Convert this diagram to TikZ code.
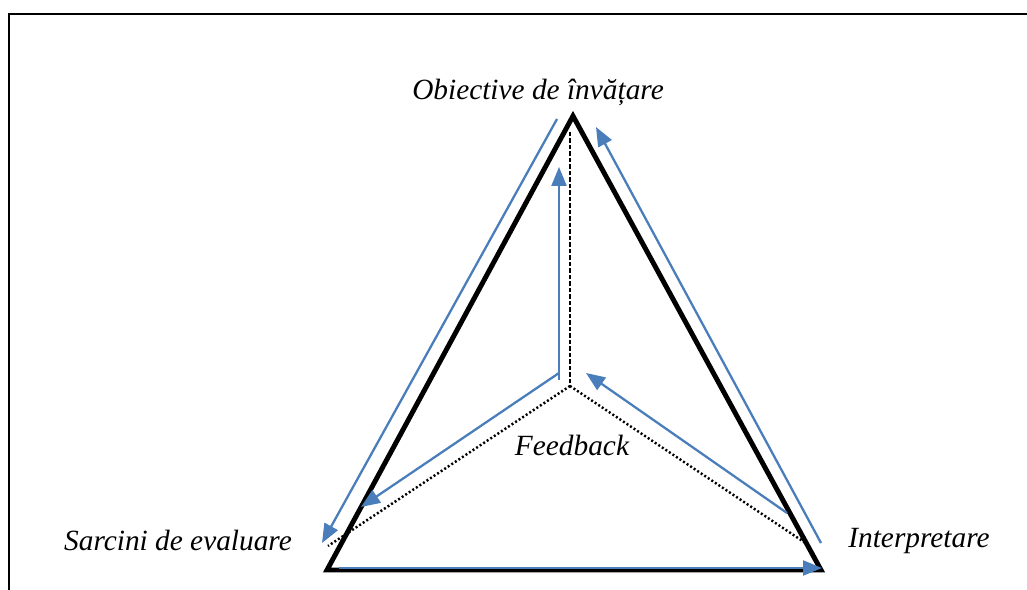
\documentclass[tikz,border=0pt]{standalone}
\usepackage{fontspec}
\setmainfont{Liberation Serif}
\usetikzlibrary{arrows.meta}

\definecolor{flowblue}{RGB}{74,126,187}

\tikzset{
  edge/.style={line width=2.8pt, line join=miter},
  flow/.style={draw=flowblue, line width=1.3pt, -{Triangle[length=0.38cm,width=0.3cm]}},
  corner/.style={font=\fontsize{16.7}{20}\selectfont\itshape, inner sep=0pt, anchor=base}
}

\begin{document}
\begin{tikzpicture}[x=0.02cm, y=-0.02cm]

\useasboundingbox (0,0) rectangle (1027,590);

% Frame
\draw[line width=1.1pt] (9,590) -- (9,14) -- (1027,14);

% Define coordinates
\coordinate (O) at (573,116);
\coordinate (S) at (327,570);
\coordinate (I) at (821,570);
\coordinate (F) at (570,386);
\coordinate (Ftop) at (570,132);
\coordinate (Sdot) at (328,546);
\coordinate (Idot) at (810,546);

% Draw triangle
\draw[edge] (O) -- (S) -- (I) -- cycle;

% Lines to the middle
\draw[line width=1.4pt, dash pattern=on 0.09cm off 0.04cm] (Ftop) -- (F);
\draw[line width=1.4pt, dash pattern=on 0.04cm off 0.045cm] (F) -- (Sdot);
\draw[line width=1.4pt, dash pattern=on 0.04cm off 0.045cm] (F) -- (Idot);

% Arrow ends
\coordinate (a1) at (557,119);
\coordinate (b1) at (322,543);
\coordinate (a2) at (821,543);
\coordinate (b2) at (596,127);
\coordinate (a3) at (339,568);
\coordinate (b3) at (822,568);
\coordinate (a4) at (559,380);
\coordinate (b4) at (559,167);
\coordinate (a5) at (559,373);
\coordinate (b5) at (361,507);
\coordinate (a6) at (787,513);
\coordinate (b6) at (586,373);

% Blue arrows
\draw[flow] (a1) -- (b1);
\draw[flow] (a2) -- (b2);
\draw[flow] (a3) -- (b3);
\draw[flow] (a4) -- (b4);
\draw[flow] (a5) -- (b5);
\draw[flow] (a6) -- (b6);

% Labels
\node[corner] (obj) at (538,100) {Obiective de învățare};
\node[corner] (sarc) at (178,550) {Sarcini de evaluare};
\node[corner] (interp) at (919,547) {Interpretare};
\node[corner] (feed) at (572,456) {Feedback};

\end{tikzpicture}
\end{document}
